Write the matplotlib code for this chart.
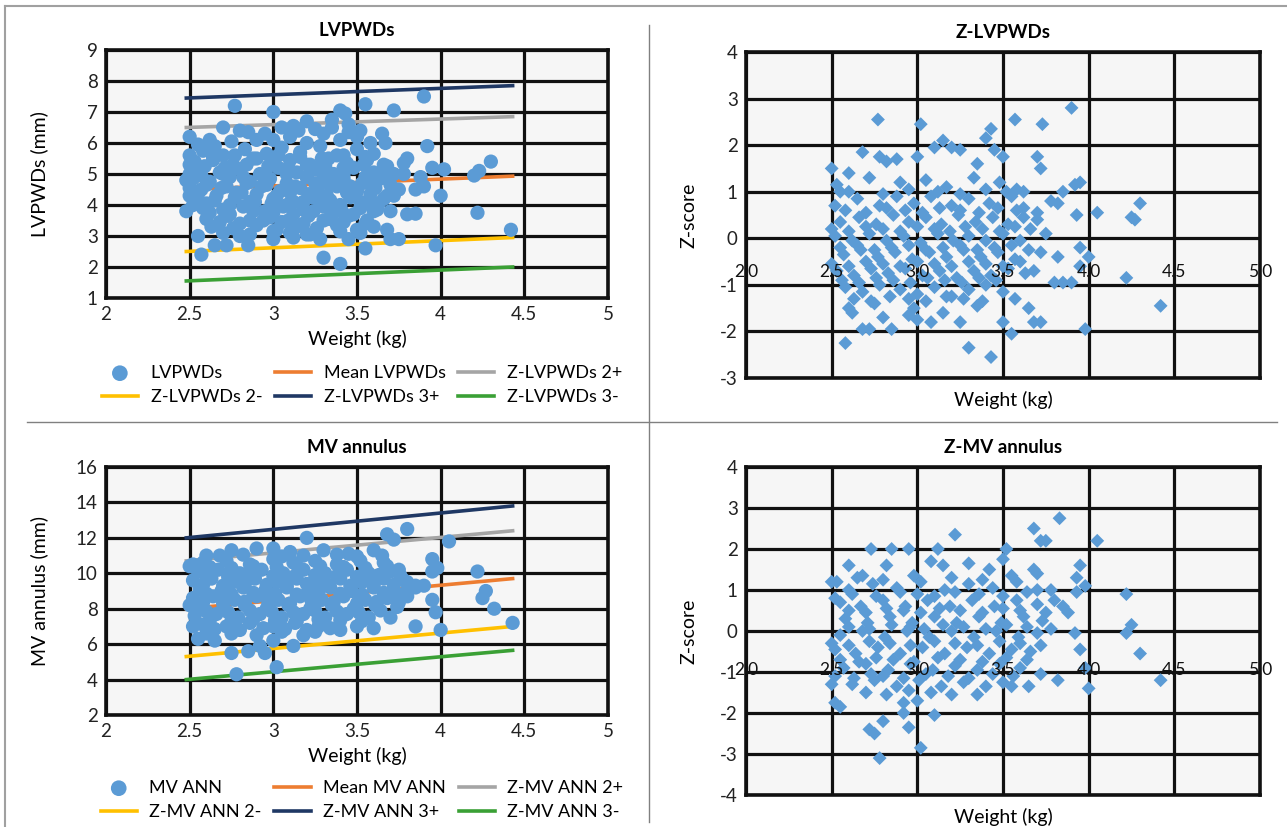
import matplotlib
matplotlib.use('Agg')
import matplotlib.pyplot as plt
from matplotlib.lines import Line2D
import numpy as np

plt.rcParams['font.family'] = ['Lato', 'DejaVu Sans']
plt.rcParams['axes.unicode_minus'] = False

W, H = 1287, 827
blue = '#5b9bd5'

# ---- LVPWDs (mm) vs weight ----
lv_w = [2.77, 3.0, 3.43, 3.4, 3.55, 3.72, 3.9, 3.2, 3.35, 3.12, 3.05, 2.7, 2.8, 2.85, 2.95, 3.25, 3.45, 3.52, 3.65, 3.67, 2.62, 2.5, 2.55,
        3.92, 3.95, 4.02, 4.2, 4.23, 4.3, 4.0, 4.22, 4.42, 3.97, 3.85, 3.8, 3.75, 3.9, 3.8, 3.85, 3.7, 3.68, 3.72, 3.78, 3.88,
        3.3, 3.4, 3.55, 2.57, 2.65, 2.72, 2.85, 3.45, 3.28, 3.68, 3.7, 3.75, 2.8, 2.55, 3.0, 3.12, 3.2, 2.48, 2.5, 2.5, 2.48,
        2.58, 2.7, 2.83, 2.96, 3.05, 3.16, 3.28, 3.38, 3.5, 3.6,
        2.53, 2.64, 2.76, 2.88, 3.0, 3.1, 3.22, 3.33, 3.44, 3.56, 3.66,
        2.56, 2.68, 2.8, 2.92, 3.03, 3.14, 3.25, 3.36, 3.48, 3.6,
        2.52, 2.62, 2.74, 2.86, 2.98, 3.08, 3.2, 3.31, 3.42, 3.53, 3.64,
        2.57, 2.69, 2.81, 2.93, 3.04, 3.16, 3.27, 3.38, 3.5, 3.61,
        2.53, 2.65, 2.77, 2.89, 3.0, 3.12, 3.23, 3.34, 3.46, 3.57, 3.66,
        2.58, 2.7, 2.82, 2.95, 3.06, 3.18, 3.3, 3.41, 3.52, 3.62,
        2.6, 2.73, 2.86, 2.98, 3.09, 3.21, 3.33, 3.45, 3.56,
        2.63, 2.76, 2.9, 3.02, 3.14, 3.26, 3.38, 3.5, 3.6]
lv_mm = [7.2, 7.0, 6.95, 7.05, 7.25, 7.05, 7.5, 6.7, 6.75, 6.55, 6.5, 6.5, 6.4, 6.35, 6.3, 6.45, 6.6, 6.4, 6.3, 6.0, 6.1, 6.2, 5.95,
         5.9, 5.2, 5.15, 4.95, 5.1, 5.4, 4.3, 3.75, 3.2, 2.7, 4.5, 5.5, 4.5, 4.6, 3.7, 3.72, 3.8, 4.3, 5.0, 5.35, 4.9,
         2.3, 2.1, 2.6, 2.4, 2.7, 2.7, 2.7, 2.9, 2.9, 3.2, 2.9, 2.9, 3.0, 3.0, 2.9, 2.95, 3.05, 3.8, 4.3, 5.3, 4.8,
         5.75, 5.6, 5.8, 5.65, 5.85, 5.7, 5.9, 5.6, 5.8, 5.65,
         5.4, 5.45, 5.3, 5.5, 5.35, 5.45, 5.3, 5.5, 5.35, 5.45, 5.3,
         5.1, 5.05, 5.15, 5.0, 5.2, 5.05, 5.15, 5.0, 5.2, 5.05,
         4.85, 4.75, 4.9, 4.75, 4.85, 4.7, 4.9, 4.75, 4.85, 4.7, 4.85,
         4.5, 4.55, 4.4, 4.6, 4.45, 4.55, 4.4, 4.6, 4.45, 4.55,
         4.2, 4.15, 4.25, 4.1, 4.2, 4.1, 4.25, 4.15, 4.25, 4.1, 4.2,
         3.9, 3.85, 3.95, 3.8, 3.95, 3.85, 3.95, 3.8, 3.9, 3.85,
         3.55, 3.65, 3.5, 3.6, 3.5, 3.65, 3.55, 3.65, 3.5,
         3.3, 3.25, 3.35, 3.2, 3.3, 3.25, 3.35, 3.2, 3.3]
# more of the dense middle cloud
lv_w_core = [2.64, 2.77, 2.9, 3.03, 3.16, 3.29, 3.42, 3.55,
             2.59, 2.71, 2.84, 2.97, 3.09, 3.2, 3.31, 3.42, 3.54, 3.68,
             2.57, 2.7, 2.82, 2.95, 3.08, 3.2, 3.3, 3.42, 3.55, 3.66, 3.78,
             2.6, 2.72, 2.84, 2.96, 3.13, 3.25, 3.34, 3.46, 3.58, 3.7,
             2.55, 2.66, 2.78, 2.9, 3.02, 3.1, 3.21, 3.32, 3.44, 3.58, 3.72,
             2.6, 2.74, 2.86, 2.99, 3.08, 3.18, 3.28, 3.4, 3.52, 3.63,
             2.62, 2.74, 2.88, 3.0, 3.12, 3.24, 3.36, 3.48, 3.6,
             2.68, 2.8, 2.94, 3.05, 3.18, 3.3, 3.42, 3.55,
             2.7, 2.86, 3.0, 3.1, 3.22, 3.4, 3.52,
             3.0, 3.1, 3.2, 3.3, 3.4, 3.5, 3.58, 3.15, 3.35, 3.45, 2.65, 2.75, 2.9, 2.5, 2.5, 2.5, 2.52]
lv_mm_core = [5.55, 5.6, 5.5, 5.6, 5.55, 5.5, 5.6, 5.55,
              5.25, 5.2, 5.3, 5.25, 5.2, 5.3, 5.25, 5.2, 5.3, 5.25,
              4.95, 5.0, 4.9, 4.95, 5.0, 4.9, 4.95, 5.0, 4.9, 4.95, 5.0,
              4.65, 4.6, 4.7, 4.65, 4.6, 4.7, 4.65, 4.6, 4.7, 4.65,
              4.35, 4.3, 4.4, 4.35, 4.3, 4.4, 4.35, 4.3, 4.4, 4.35, 4.3,
              4.05, 4.0, 4.1, 4.05, 4.0, 4.1, 4.05, 4.0, 4.1, 4.05,
              3.75, 3.7, 3.8, 3.75, 3.7, 3.8, 3.75, 3.7, 3.8,
              3.45, 3.4, 3.5, 3.45, 3.4, 3.5, 3.45, 3.4,
              3.1, 3.05, 3.15, 3.1, 3.05, 3.15, 3.1,
              6.1, 6.2, 6.0, 6.3, 6.1, 6.2, 6.0, 6.4, 6.5, 6.35, 5.9, 6.05, 6.1, 5.6, 5.0, 4.55, 4.0]

# reference lines (start / end weight)
ref_w = [2.48, 4.43]
lv_mean = [4.5, 4.93]
lv_p2 = [6.5, 6.85]
lv_m2 = [2.5, 2.95]
lv_p3 = [7.45, 7.85]
lv_m3 = [1.55, 2.0]

# ---- Z-LVPWDs ----
zl_w = [2.77, 3.02, 3.57, 3.73, 3.9, 3.43, 3.4, 3.15, 3.2, 3.25, 3.1, 2.68, 2.78, 2.82, 2.88, 3.0, 3.45, 3.5, 3.7, 3.72, 2.5, 2.6, 2.53, 3.35,
        4.05, 4.25, 4.27, 4.3, 4.22, 4.42, 3.98, 3.92, 3.95, 3.93, 3.82, 3.85, 3.78, 3.62, 3.85, 3.9, 3.95, 4.0, 3.82, 3.8, 3.95, 3.75, 3.7, 3.72, 3.68,
        3.55, 3.3, 3.43, 2.58, 2.68, 2.72, 3.5, 3.25, 3.68, 3.72, 3.65, 2.6, 2.62, 2.8, 2.85, 2.95, 3.0, 3.08, 3.15, 2.98, 3.35, 2.75, 3.57,
        2.55, 2.72, 2.9, 3.05, 3.17, 3.33, 3.48, 3.58,
        2.52, 2.65, 2.78, 2.88, 2.98, 3.08, 3.2, 3.3, 3.42, 3.55, 3.62,
        2.55, 2.66, 2.76, 2.86, 2.95, 3.05, 3.14, 3.24, 3.34, 3.44, 3.53, 3.62,
        2.52, 2.62, 2.72, 2.82, 2.92, 3.02, 3.12, 3.21, 3.3, 3.4, 3.5, 3.6,
        2.57, 2.67, 2.77, 2.87, 2.97, 3.07, 3.17, 3.27, 3.37, 3.47, 3.57,
        2.53, 2.63, 2.73, 2.83, 2.93, 3.03, 3.13, 3.23, 3.33, 3.43, 3.53, 3.63,
        2.58, 2.68, 2.78, 2.9, 3.0, 3.1, 3.2, 3.3, 3.4, 3.5]
zl_z = [2.55, 2.45, 2.55, 2.45, 2.8, 2.35, 2.15, 2.1, 1.95, 1.9, 1.95, 1.85, 1.75, 1.65, 1.7, 1.75, 1.9, 1.75, 1.75, 1.5, 1.5, 1.4, 1.15, 1.6,
        0.55, 0.45, 0.4, 0.75, -0.85, -1.45, -1.95, 1.15, 1.2, 0.5, 0.75, 1.0, 0.8, 1.0, -0.95, -0.95, -0.6, -0.4, -0.4, -0.95, -0.2, 0.1, 0.4, -0.3, -0.7,
        -2.05, -2.35, -2.55, -2.25, -1.95, -1.95, -1.8, -1.8, -1.8, -1.8, -1.5, -1.5, -1.6, -1.7, -1.95, -1.65, -1.75, -1.8, -1.6, -1.5, -1.45, -1.4, -1.3,
        1.0, 1.3, 1.2, 1.25, 1.1, 1.3, 1.2, 1.05,
        0.7, 0.85, 0.7, 0.9, 0.75, 0.9, 0.7, 0.85, 0.75, 0.9, 0.65,
        0.35, 0.45, 0.3, 0.5, 0.35, 0.45, 0.3, 0.5, 0.35, 0.45, 0.3, 0.45,
        0.05, -0.05, 0.1, -0.05, 0.05, -0.1, 0.1, -0.05, 0.05, -0.05, 0.1, -0.05,
        -0.35, -0.25, -0.4, -0.3, -0.45, -0.3, -0.4, -0.25, -0.4, -0.3, -0.45,
        -0.7, -0.8, -0.65, -0.75, -0.65, -0.8, -0.7, -0.85, -0.7, -0.8, -0.65, -0.75,
        -1.05, -1.15, -1.0, -1.1, -1.2, -1.05, -1.25, -1.1, -1.0, -1.15]
zl_w_core = [2.6, 2.8, 2.95, 3.12, 3.25, 3.4, 3.52,
             2.58, 2.7, 2.82, 2.93, 3.03, 3.13, 3.25, 3.36, 3.47, 3.58, 3.7,
             2.5, 2.6, 2.7, 2.8, 2.9, 3.0, 3.1, 3.19, 3.28, 3.38, 3.48, 3.57, 3.66,
             2.55, 2.65, 2.75, 2.85, 2.95, 3.05, 3.15, 3.25, 3.35, 3.45, 3.55, 3.65,
             2.5, 2.6, 2.7, 2.8, 2.9, 3.0, 3.1, 3.2, 3.3, 3.4, 3.5, 3.6,
             2.56, 2.66, 2.76, 2.86, 2.96, 3.06, 3.16, 3.26, 3.36, 3.46,
             2.63, 2.73, 2.84, 2.95, 3.05, 3.17, 3.27, 3.38]
zl_z_core = [1.0, 0.95, 1.05, 1.0, 0.95, 1.05, 1.0,
             0.6, 0.55, 0.65, 0.6, 0.55, 0.65, 0.6, 0.55, 0.65, 0.6, 0.55,
             0.2, 0.15, 0.25, 0.2, 0.15, 0.25, 0.2, 0.15, 0.25, 0.2, 0.15, 0.25, 0.2,
             -0.2, -0.15, -0.25, -0.2, -0.15, -0.25, -0.2, -0.15, -0.25, -0.2, -0.15, -0.25,
             -0.55, -0.6, -0.5, -0.55, -0.6, -0.5, -0.55, -0.6, -0.5, -0.55, -0.6, -0.5,
             -0.9, -0.95, -0.85, -0.9, -0.95, -0.85, -0.9, -0.95, -0.85, -0.9,
             -1.3, -1.35, -1.25, -1.3, -1.35, -1.25, -1.3, -1.35]

# ---- MV annulus (mm) vs weight ----
mv_w = [2.78, 3.02, 2.75, 2.85, 2.92, 2.95, 3.0, 3.12, 3.25, 4.0, 4.43, 4.32, 4.25, 4.27, 4.22, 4.05, 3.8, 3.68, 3.72, 3.2, 2.6, 2.75, 2.9, 3.0,
        3.95, 3.98, 3.95, 3.9, 3.95, 3.97, 3.85, 3.7, 3.6, 3.4, 3.5, 2.52, 2.5, 2.5, 2.52, 2.55, 3.8, 3.75, 3.85, 3.1, 3.3, 3.45, 3.6, 2.65, 2.6,
        2.58, 2.72, 2.86, 3.0, 3.12, 3.25, 3.38, 3.52, 3.66,
        2.55, 2.67, 2.8, 2.93, 3.06, 3.18, 3.31, 3.44, 3.57, 3.7,
        2.52, 2.63, 2.76, 2.89, 3.02, 3.14, 3.27, 3.4, 3.53, 3.66, 3.78,
        2.56, 2.69, 2.82, 2.95, 3.08, 3.21, 3.34, 3.47, 3.6, 3.72,
        2.52, 2.64, 2.77, 2.9, 3.03, 3.16, 3.29, 3.42, 3.55, 3.68, 3.8,
        2.57, 2.7, 2.83, 2.96, 3.09, 3.22, 3.35, 3.48, 3.61, 3.74,
        2.53, 2.66, 2.79, 2.92, 3.05, 3.18, 3.31, 3.44, 3.57,
        2.58, 2.72, 2.86, 3.0, 3.13, 3.27,
        2.75, 2.9, 3.05, 3.18]
mv_mm = [4.3, 4.7, 5.5, 5.6, 5.9, 5.5, 6.2, 5.9, 6.7, 6.8, 7.2, 8.0, 8.6, 9.0, 10.1, 11.8, 12.5, 12.2, 11.9, 12.0, 11.0, 11.3, 11.4, 11.4,
         10.8, 10.3, 10.1, 9.3, 8.5, 7.8, 7.0, 7.5, 6.9, 6.8, 7.0, 10.5, 10.4, 8.2, 7.0, 6.3, 9.5, 10.2, 9.2, 11.2, 11.3, 11.1, 11.3, 6.2, 6.6,
         10.6, 10.7, 10.5, 10.8, 10.6, 10.7, 10.5, 10.7, 10.6,
         10.1, 10.2, 10.0, 10.2, 10.0, 10.2, 10.0, 10.2, 10.0, 10.1,
         9.6, 9.7, 9.5, 9.7, 9.5, 9.7, 9.5, 9.7, 9.5, 9.7, 9.6,
         9.1, 9.0, 9.2, 9.0, 9.2, 9.0, 9.2, 9.0, 9.2, 9.0,
         8.6, 8.7, 8.5, 8.7, 8.5, 8.7, 8.5, 8.7, 8.5, 8.6, 8.7,
         8.1, 8.0, 8.2, 8.0, 8.2, 8.0, 8.2, 8.0, 8.2, 8.1,
         7.6, 7.7, 7.5, 7.7, 7.5, 7.7, 7.5, 7.7, 7.5,
         7.1, 7.0, 7.2, 7.0, 7.2, 7.0,
         6.6, 6.5, 6.7, 6.5]
mv_w_core = [2.62, 2.75, 2.88, 3.02, 3.15, 3.28, 3.42, 3.55, 3.68,
             2.6, 2.73, 2.86, 3.0, 3.12, 3.25, 3.38, 3.5, 3.63, 3.76,
             2.58, 2.7, 2.83, 2.96, 3.08, 3.2, 3.33, 3.46, 3.6, 3.72, 3.85,
             2.6, 2.75, 2.88, 3.01, 3.14, 3.27, 3.4, 3.53, 3.66, 3.78,
             2.58, 2.7, 2.83, 2.97, 3.1, 3.23, 3.36, 3.5, 3.62, 3.75,
             2.6, 2.73, 2.86, 2.99, 3.12, 3.25, 3.38, 3.51, 3.64,
             2.62, 2.75, 2.88, 3.01, 3.14, 3.27, 3.4, 3.53,
             2.65, 2.8, 2.94, 3.07, 3.2, 3.34,
             2.68, 2.82, 3.05, 3.18, 3.38, 3.5, 3.65]
mv_mm_core = [10.35, 10.3, 10.4, 10.35, 10.3, 10.4, 10.35, 10.3, 10.4,
              9.85, 9.8, 9.9, 9.85, 9.8, 9.9, 9.85, 9.8, 9.9, 9.85,
              9.35, 9.3, 9.4, 9.35, 9.3, 9.4, 9.35, 9.3, 9.4, 9.35, 9.3,
              8.85, 8.8, 8.9, 8.85, 8.8, 8.9, 8.85, 8.8, 8.9, 8.85,
              8.35, 8.3, 8.4, 8.35, 8.3, 8.4, 8.35, 8.3, 8.4, 8.35,
              7.85, 7.8, 7.9, 7.85, 7.8, 7.9, 7.85, 7.8, 7.9,
              7.35, 7.3, 7.4, 7.35, 7.3, 7.4, 7.35, 7.3,
              6.85, 6.8, 6.9, 6.85, 6.8, 6.9,
              11.0, 11.05, 10.95, 11.0, 11.05, 10.95, 11.0]

mv_mean = [8.0, 9.7]
mv_p2 = [10.7, 12.4]
mv_m2 = [5.3, 7.0]
mv_p3 = [12.0, 13.8]
mv_m3 = [4.0, 5.65]

# ---- Z-MV annulus ----
zm_w = [3.22, 3.68, 3.72, 3.75, 3.83, 4.05, 3.52, 3.5, 2.73, 2.85, 2.95, 3.12, 2.6, 2.5, 2.53, 2.52, 3.95, 3.93, 3.98, 3.93, 4.22, 4.25, 4.22, 4.3,
        4.42, 4.0, 3.98, 3.95, 3.92, 3.82, 3.88, 3.65, 3.72, 3.55, 2.78, 3.02, 2.72, 2.75, 2.8, 2.92, 2.95, 3.1, 2.92, 2.52, 2.55, 3.35, 3.0, 2.5,
        3.68, 3.7, 3.78, 3.85, 3.8, 3.08, 3.15, 3.3, 3.42, 2.82, 2.68,
        2.6, 2.74, 2.88, 3.02, 3.16, 3.3, 3.44, 3.58, 3.7,
        2.55, 2.67, 2.8, 2.93, 3.06, 3.19, 3.32, 3.45, 3.58, 3.7,
        2.58, 2.71, 2.84, 2.97, 3.1, 3.23, 3.36, 3.49, 3.62, 3.73,
        2.55, 2.68, 2.81, 2.94, 3.07, 3.2, 3.33, 3.46, 3.59, 3.7,
        2.52, 2.64, 2.77, 2.9, 3.03, 3.16, 3.29, 3.42, 3.55, 3.66,
        2.57, 2.7, 2.83, 2.96, 3.09, 3.22, 3.35, 3.48, 3.6,
        2.62, 2.75, 2.88, 3.01, 3.14, 3.27, 3.4, 3.5]
zm_z = [2.35, 2.5, 2.2, 2.2, 2.75, 2.2, 2.0, 1.75, 2.0, 2.0, 2.0, 2.0, 1.6, 1.2, 1.2, 0.8, 1.6, 1.3, 1.1, 0.95, 0.9, 0.15, -0.05, -0.55,
        -1.2, -1.4, -0.9, -0.45, -0.05, -1.2, 0.45, -1.35, -1.05, -1.35, -3.1, -2.85, -2.4, -2.5, -2.2, -2.0, -2.35, -2.05, -1.75, -1.75, -1.85, -1.55, -1.7, -1.3,
        1.5, 1.4, 1.0, 0.6, 0.75, 1.7, 1.6, 1.65, 1.5, 1.6, 1.35,
        1.0, 1.15, 1.05, 1.2, 1.0, 1.15, 1.05, 1.2, 1.0,
        0.7, 0.6, 0.75, 0.6, 0.75, 0.6, 0.75, 0.6, 0.75, 0.65,
        0.3, 0.2, 0.35, 0.2, 0.35, 0.2, 0.35, 0.2, 0.35, 0.25,
        -0.1, 0.0, -0.15, 0.0, -0.15, 0.0, -0.15, 0.0, -0.15, -0.05,
        -0.45, -0.55, -0.4, -0.55, -0.4, -0.55, -0.4, -0.55, -0.45, -0.5,
        -0.9, -0.8, -0.95, -0.8, -0.95, -0.85, -0.95, -0.8, -0.9,
        -1.3, -1.2, -1.35, -1.2, -1.35, -1.25, -1.35, -1.25]
zm_w_core = [2.65, 2.8, 2.98, 3.2, 3.38, 3.55,
             2.62, 2.76, 2.9, 3.0, 3.1, 3.22, 3.36, 3.5, 3.64,
             2.6, 2.7, 2.82, 2.92, 3.02, 3.13, 3.25, 3.38, 3.5, 3.6, 3.75,
             2.6, 2.72, 2.85, 2.96, 3.04, 3.15, 3.27, 3.4, 3.52, 3.64, 3.78,
             2.5, 2.6, 2.72, 2.84, 2.96, 3.1, 3.22, 3.35, 3.48, 3.6, 3.72,
             2.55, 2.66, 2.76, 2.86, 2.98, 3.12, 3.25, 3.38, 3.52, 3.64,
             2.52, 2.63, 2.73, 2.8, 2.92, 3.05, 3.18, 3.3, 3.44, 3.56,
             2.7, 2.82, 2.95, 3.08, 3.2]
zm_z_core = [1.3, 1.25, 1.35, 1.3, 1.25, 1.35,
             0.9, 0.85, 0.95, 0.9, 0.85, 0.95, 0.9, 0.85, 0.95,
             0.5, 0.45, 0.55, 0.5, 0.45, 0.55, 0.5, 0.45, 0.55, 0.5, 0.45,
             0.1, 0.05, 0.15, 0.1, 0.05, 0.15, 0.1, 0.05, 0.15, 0.1, 0.05,
             -0.3, -0.35, -0.25, -0.3, -0.35, -0.25, -0.3, -0.35, -0.25, -0.3, -0.35,
             -0.7, -0.75, -0.65, -0.7, -0.75, -0.65, -0.7, -0.75, -0.65, -0.7,
             -1.1, -1.15, -1.05, -1.1, -1.15, -1.05, -1.1, -1.15, -1.05, -1.1,
             -1.5, -1.55, -1.45, -1.5, -1.55]

weight_ticks = [2, 2.5, 3, 3.5, 4, 4.5, 5]
z_xlabels = ['2.0', '2.5', '3.0', '3.5', '4.0', '4.5', '5.0']


def px_rect(left, top, right, bottom):
    return [left / W, 1 - bottom / H, (right - left) / W, (bottom - top) / H]


def style(ax):
    ax.set_facecolor('#f6f6f6')
    ax.grid(True, color='#111111', lw=2.3)
    ax.set_axisbelow(True)
    for s in ax.spines.values():
        s.set_color('#111111')
        s.set_linewidth(2.6)
    ax.tick_params(length=0, labelsize=13.5, pad=6, colors='#222222')


fig = plt.figure(figsize=(W / 100, H / 100), dpi=100)

# frame and separators
fig.add_artist(Line2D([5 / W, 1], [1 - 6 / H, 1 - 6 / H], color='#a0a0a0', lw=1.5))
fig.add_artist(Line2D([5 / W, 5 / W], [0, 1 - 6 / H], color='#a0a0a0', lw=1.5))
fig.add_artist(Line2D([649 / W, 649 / W], [1 - 822 / H, 1 - 25 / H], color='#808080', lw=1))
fig.add_artist(Line2D([27 / W, 1277 / W], [1 - 422 / H, 1 - 422 / H], color='#808080', lw=1))


def raw_panel(rect, w, val, lines, title, ylabel, ylim, yticks, names, leg_y):
    ax = fig.add_axes(rect)
    style(ax)
    colors = ['#ed7d31', '#a5a5a5', '#ffc000', '#1f3864', '#3aa035']
    handles = []
    for ys, c, n in zip(lines, colors, names[1:]):
        h, = ax.plot(ref_w, ys, color=c, lw=2.6, label=n, zorder=2)
        handles.append(h)
    sc = ax.scatter(w, val, s=105, color=blue, edgecolors='none', zorder=3, label=names[0])
    ax.set_xlim(2, 5)
    ax.set_ylim(*ylim)
    ax.set_xticks(weight_ticks)
    ax.set_xticklabels(['2', '2.5', '3', '3.5', '4', '4.5', '5'])
    ax.set_yticks(yticks)
    ax.set_title(title, fontsize=13.5, fontweight='bold', pad=10)
    ax.set_xlabel('Weight (kg)', fontsize=14, labelpad=5)
    ax.set_ylabel(ylabel, fontsize=14)
    ax.yaxis.set_label_coords(-0.115, 0.5)
    # order so rows read: dots, mean, 2+ / 2-, 3+, 3-
    order = [sc, handles[2], handles[0], handles[3], handles[1], handles[4]]
    fig.legend(handles=order, labels=[h.get_label() for h in order], ncol=3,
               loc='center', bbox_to_anchor=(362 / W, 1 - leg_y / H), frameon=False,
               fontsize=13, handlelength=2.0, columnspacing=0.7, handletextpad=0.7,
               labelspacing=0.45, markerscale=1.1)
    return ax


def z_panel(rect, w, z, title, ylim, label_y):
    ax = fig.add_axes(rect)
    style(ax)
    ax.scatter(w, z, s=50, marker='D', color=blue, edgecolors='none', zorder=3)
    ax.set_xlim(2, 5)
    ax.set_ylim(*ylim)
    ax.set_xticks(weight_ticks)
    ax.set_xticklabels([])
    ax.set_yticks(range(ylim[0], ylim[1] + 1))
    for t, lab in zip(weight_ticks, z_xlabels):
        ax.text(t, label_y, lab, ha='center', va='center', fontsize=12.5, color='#111111',
                zorder=4, clip_on=False)
    ax.set_title(title, fontsize=13.5, fontweight='bold', pad=10)
    ax.set_xlabel('Weight (kg)', fontsize=14, labelpad=3)
    ax.set_ylabel('Z-score', fontsize=14)
    ax.yaxis.set_label_coords(-0.095, 0.5)
    return ax


raw_panel(px_rect(106, 50, 608, 298), lv_w + lv_w_core, lv_mm + lv_mm_core,
          [lv_mean, lv_p2, lv_m2, lv_p3, lv_m3],
          'LVPWDs', 'LVPWDs (mm)', (1, 9), range(1, 10),
          ['LVPWDs', 'Mean LVPWDs', 'Z-LVPWDs 2+', 'Z-LVPWDs 2-', 'Z-LVPWDs 3+', 'Z-LVPWDs 3-'], 385)
raw_panel(px_rect(106, 467, 608, 715), mv_w + mv_w_core, mv_mm + mv_mm_core,
          [mv_mean, mv_p2, mv_m2, mv_p3, mv_m3],
          'MV annulus', 'MV annulus (mm)', (2, 16), range(2, 17, 2),
          ['MV ANN', 'Mean MV ANN', 'Z-MV ANN 2+', 'Z-MV ANN 2-', 'Z-MV ANN 3+', 'Z-MV ANN 3-'], 800)
z_panel(px_rect(746, 52, 1260, 378), zl_w + zl_w_core, zl_z + zl_z_core, 'Z-LVPWDs', (-3, 4), -0.72)
z_panel(px_rect(746, 467, 1260, 795), zm_w + zm_w_core, zm_z + zm_z_core, 'Z-MV annulus', (-4, 4), -0.95)

plt.savefig('out.png', dpi=100)
plt.close()
